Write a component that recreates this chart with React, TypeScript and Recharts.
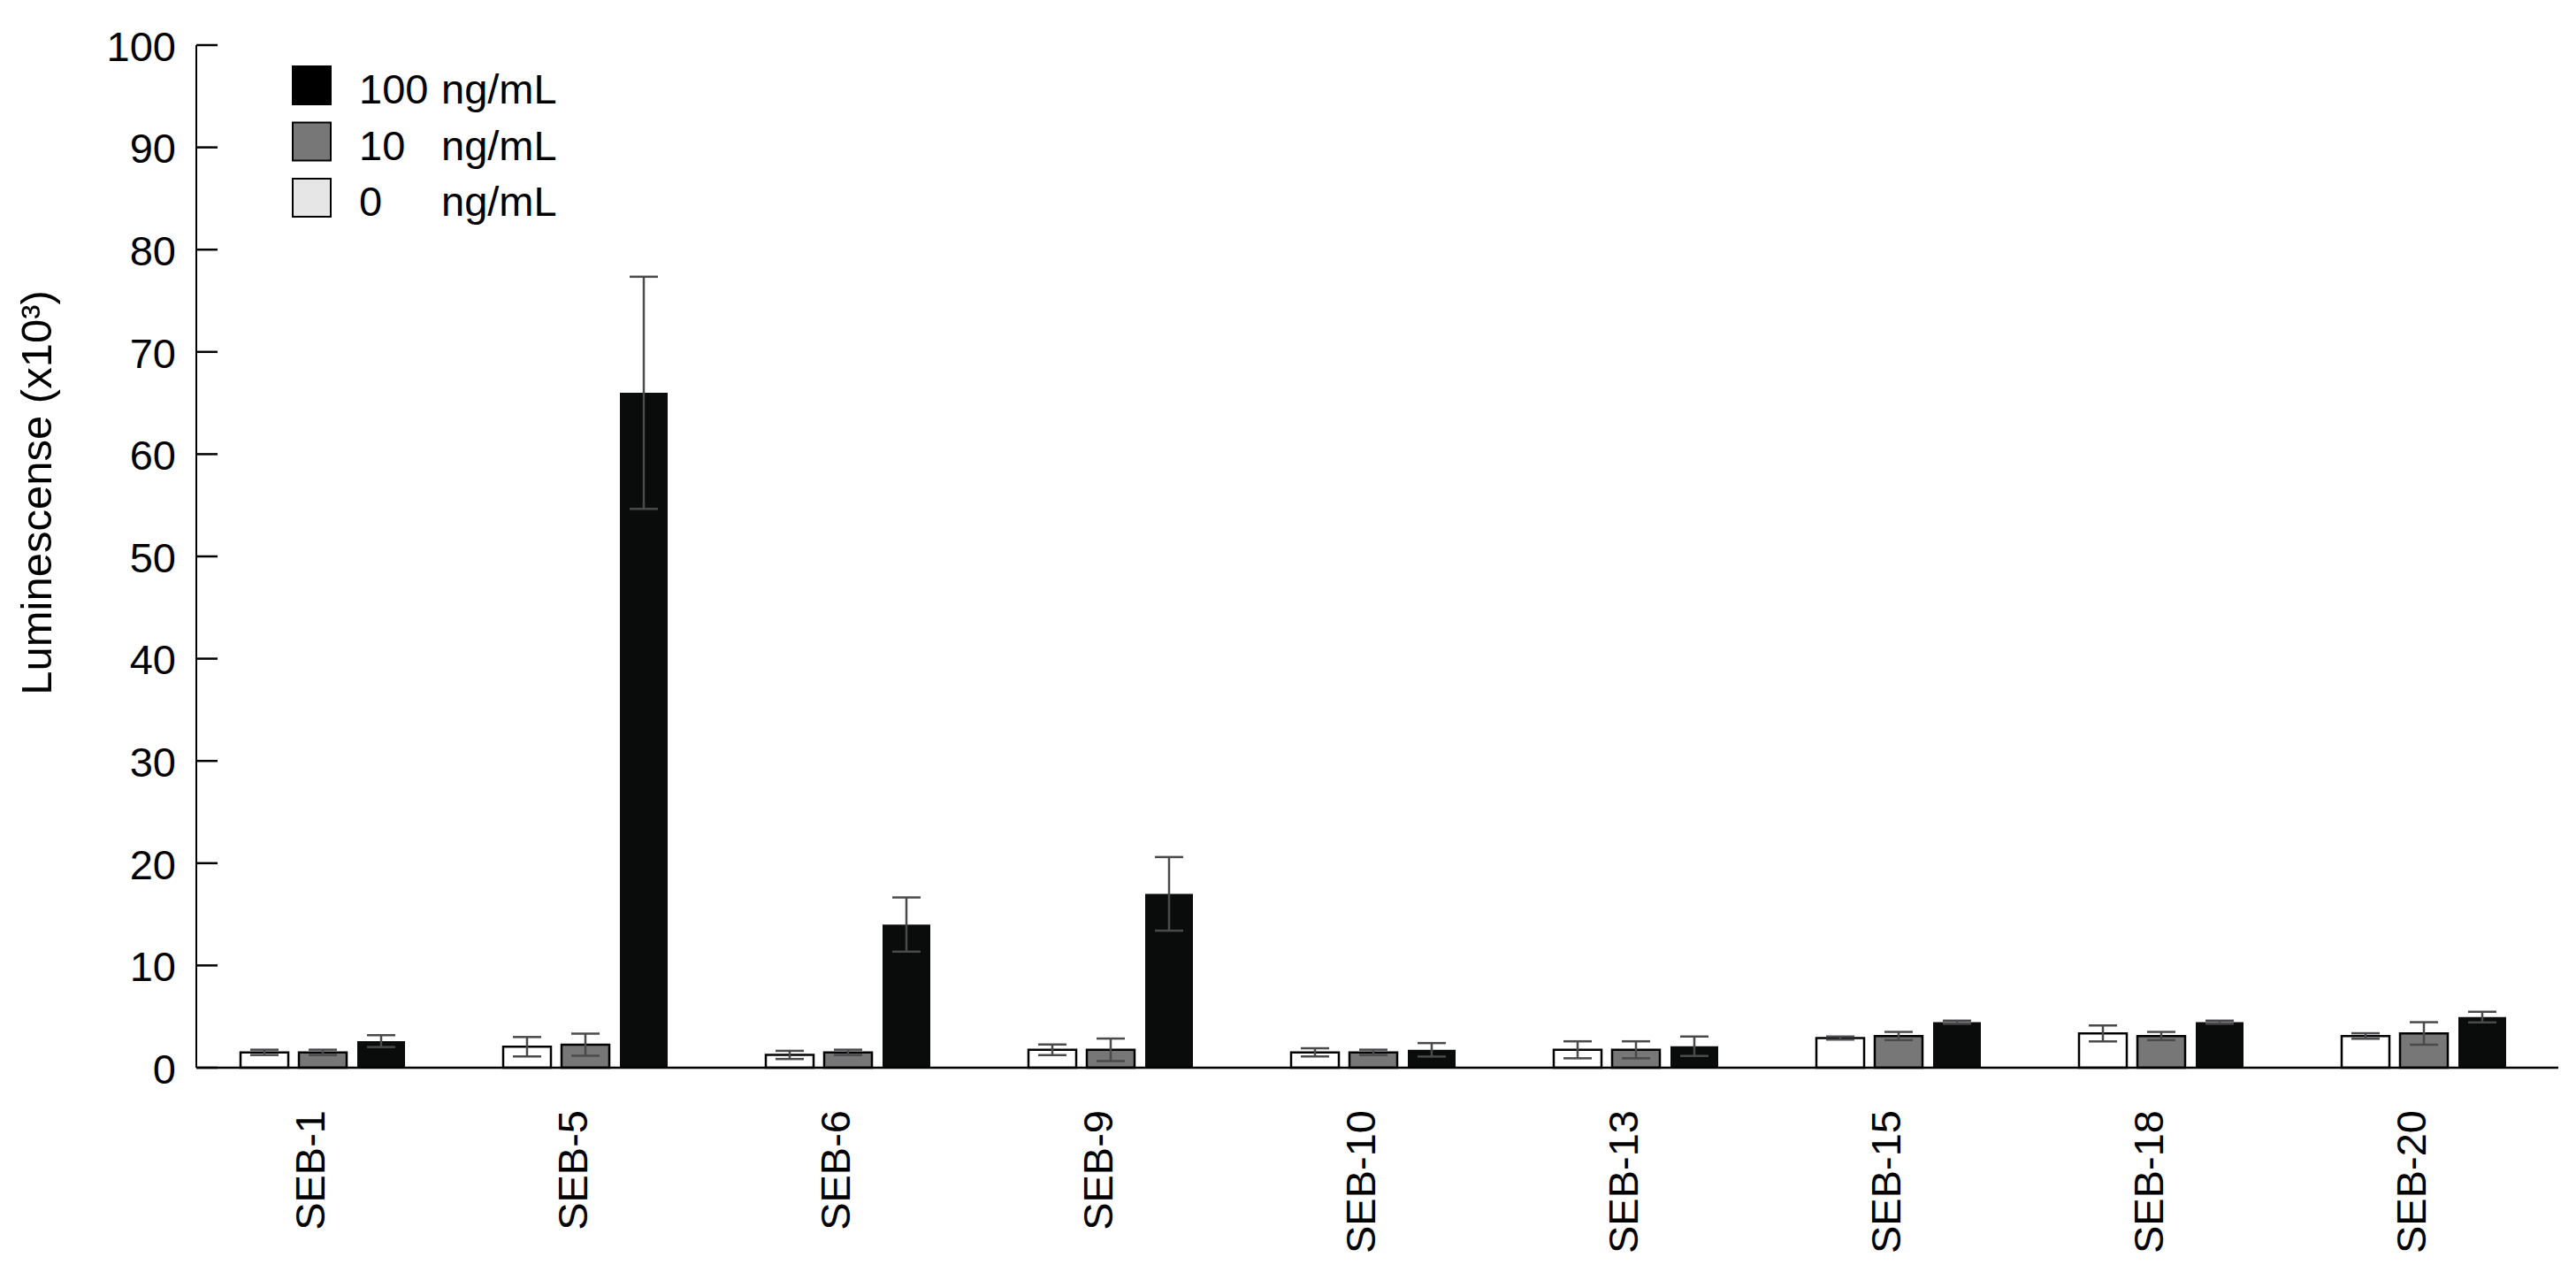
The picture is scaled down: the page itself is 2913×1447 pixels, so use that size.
import {Bar, BarChart, ErrorBar, Legend, XAxis, YAxis} from 'recharts';

const categories = ['SEB-1', 'SEB-5', 'SEB-6', 'SEB-9', 'SEB-10', 'SEB-13', 'SEB-15', 'SEB-18', 'SEB-20'];

// luminescence x10^3, mean and error per dose
const dose0 = [1.5, 2.05, 1.25, 1.75, 1.5, 1.75, 2.9, 3.35, 3.1];
const dose0Err = [0.26, 0.95, 0.4, 0.52, 0.4, 0.83, 0.15, 0.78, 0.27];
const dose10 = [1.5, 2.25, 1.5, 1.75, 1.5, 1.75, 3.1, 3.1, 3.35];
const dose10Err = [0.26, 1.08, 0.26, 1.1, 0.26, 0.83, 0.4, 0.4, 1.1];
const dose100 = [2.6, 66.0, 14.0, 17.0, 1.75, 2.1, 4.45, 4.45, 4.95];
const dose100Err = [0.58, 11.35, 2.65, 3.6, 0.66, 0.95, 0.15, 0.15, 0.52];

const yTicks = [0, 10, 20, 30, 40, 50, 60, 70, 80, 90, 100];

const legendItems = [
  {dose: '100', fill: '#000000'},
  {dose: '10', fill: '#777777'},
  {dose: '0', fill: '#e6e6e6'},
];

const data = categories.map((name, i) => ({
  name,
  d0: dose0[i],
  d0Err: dose0Err[i],
  d10: dose10[i],
  d10Err: dose10Err[i],
  d100: dose100[i],
  d100Err: dose100Err[i],
}));

const FONT = '"Liberation Sans", Arial, sans-serif';
const ERR = '#4a4a4c';

function YTick(props: any) {
  const {x, y, payload} = props;
  const axisX = x + 23;
  return (
    <g>
      <line x1={axisX} x2={axisX + 24} y1={y} y2={y} stroke="#000" strokeWidth={2.5} />
      <text x={x} y={y} dy="0.38em" textAnchor="end" fontSize={47} fontFamily={FONT} fill="#000">
        {payload.value}
      </text>
    </g>
  );
}

function XTick(props: any) {
  const {x, y, payload} = props;
  const tx = x + 2;
  return (
    <text
      x={tx}
      y={y}
      transform={`rotate(-90 ${tx} ${y})`}
      textAnchor="end"
      fontSize={47}
      fontFamily={FONT}
      fill="#000"
    >
      {payload.value}
    </text>
  );
}

function LegendBox() {
  return (
    <svg width={700} height={260}>
      {legendItems.map((item, i) => {
        const top = 75 + i * 63.5;
        return (
          <g key={item.dose}>
            <rect x={331} y={top} width={43} height={43} fill={item.fill} stroke="#000" strokeWidth={2} />
            <text x={406} y={top + 42} fontSize={47} fontFamily={FONT} fill="#000">
              {item.dose}
            </text>
            <text x={499} y={top + 42} fontSize={47} fontFamily={FONT} fill="#000">
              ng/mL
            </text>
          </g>
        );
      })}
    </svg>
  );
}

export default function App() {
  return (
    <div style={{position: 'absolute', left: 0, top: 0, width: 2913, height: 1447, background: '#fff'}}>
      <BarChart
        width={2913}
        height={1447}
        data={data}
        margin={{top: 51, right: 20, bottom: 0, left: 0}}
        barSize={54}
        barGap={12}
      >
        <XAxis
          dataKey="name"
          height={240}
          padding={{left: -6, right: 4}}
          axisLine={{stroke: '#000', strokeWidth: 2.5}}
          tickLine={false}
          tickSize={0}
          tickMargin={48}
          interval={0}
          tick={<XTick />}
        />
        <YAxis
          width={222}
          domain={[0, 100]}
          ticks={yTicks}
          interval={0}
          axisLine={{stroke: '#000', strokeWidth: 2}}
          tickLine={false}
          tickSize={0}
          tickMargin={23}
          tick={<YTick />}
          label={{
            content: () => (
              <text
                x={41}
                y={557}
                transform="rotate(-90 41 557)"
                textAnchor="middle"
                dominantBaseline="central"
                fontSize={49}
                fontFamily={FONT}
                fill="#000"
              >
                Luminescense (x10³)
              </text>
            ),
          }}
        />
        <Legend
          layout="vertical"
          align="center"
          verticalAlign="middle"
          wrapperStyle={{left: 0, top: 0, width: 700, height: 260}}
          content={() => <LegendBox />}
        />
        <Bar dataKey="d0" fill="#ffffff" stroke="#000" strokeWidth={2.5} isAnimationActive={false}>
          <ErrorBar dataKey="d0Err" width={16} stroke={ERR} strokeWidth={2.5} isAnimationActive={false} />
        </Bar>
        <Bar dataKey="d10" fill="#777777" stroke="#000" strokeWidth={2.5} isAnimationActive={false}>
          <ErrorBar dataKey="d10Err" width={16} stroke={ERR} strokeWidth={2.5} isAnimationActive={false} />
        </Bar>
        <Bar dataKey="d100" fill="#0a0c0b" isAnimationActive={false}>
          <ErrorBar dataKey="d100Err" width={16} stroke={ERR} strokeWidth={2.5} isAnimationActive={false} />
        </Bar>
      </BarChart>
    </div>
  );
}
